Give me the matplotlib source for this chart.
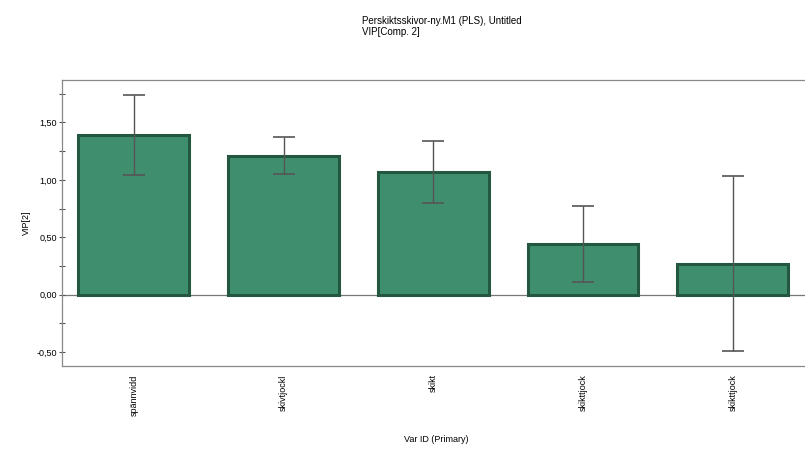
import matplotlib.pyplot as plt
from matplotlib.ticker import MultipleLocator, FuncFormatter

# VIP[2] values per variable with symmetric confidence half-widths
VARIABLES = ["spännvidd", "skivtjockl", "skikt", "skikttjock", "skikttjock"]
VIP = [1.39, 1.21, 1.07, 0.44, 0.27]
VIP_ERR = [0.35, 0.16, 0.27, 0.33, 0.76]

BAR_COLOR = "#3f8f6e"
EDGE_COLOR = "#24573f"

plt.rcParams["font.family"] = ["Liberation Sans", "DejaVu Sans"]

fig = plt.figure(figsize=(8.05, 4.54), dpi=100)
ax = fig.add_axes([0.077, 0.194, 0.93, 0.63])

x = list(range(len(VARIABLES)))
ax.bar(x, VIP, width=0.74, color=BAR_COLOR, edgecolor=EDGE_COLOR, linewidth=2.2)
ax.errorbar(x, VIP, yerr=VIP_ERR, fmt="none", ecolor="#555555",
            elinewidth=1.0, capsize=8, capthick=1.2)
ax.axhline(0, color="#777777", linewidth=0.9, zorder=0)

ax.set_xlim(-0.48, 4.52)
ax.set_ylim(-0.62, 1.87)

ax.yaxis.set_major_locator(MultipleLocator(0.5))
ax.yaxis.set_minor_locator(MultipleLocator(0.25))
ax.yaxis.set_major_formatter(FuncFormatter(lambda v, _: f"{v:.2f}".replace(".", ",")))
ax.tick_params(axis="y", which="both", direction="inout", length=5,
               width=0.8, color="#555555", labelsize=6.5, pad=1)

ax.set_xticks(x)
ax.set_xticklabels(VARIABLES, rotation=90, fontsize=6.5)
ax.tick_params(axis="x", length=0, pad=6)

for side in ["left", "bottom", "top"]:
    ax.spines[side].set_color("#888888")
    ax.spines[side].set_linewidth(0.9)
ax.spines["right"].set_visible(False)

ax.set_ylabel("VIP[2]", fontsize=6.5, labelpad=4)
ax.set_xlabel("Var ID (Primary)", fontsize=6.5, labelpad=14)

fig.text(0.45, 0.965, "Perskiktsskivor-ny.M1 (PLS), Untitled\nVIP[Comp. 2]",
         fontsize=7, ha="left", va="top", linespacing=1.2)

fig.savefig("out.png", dpi=100)
